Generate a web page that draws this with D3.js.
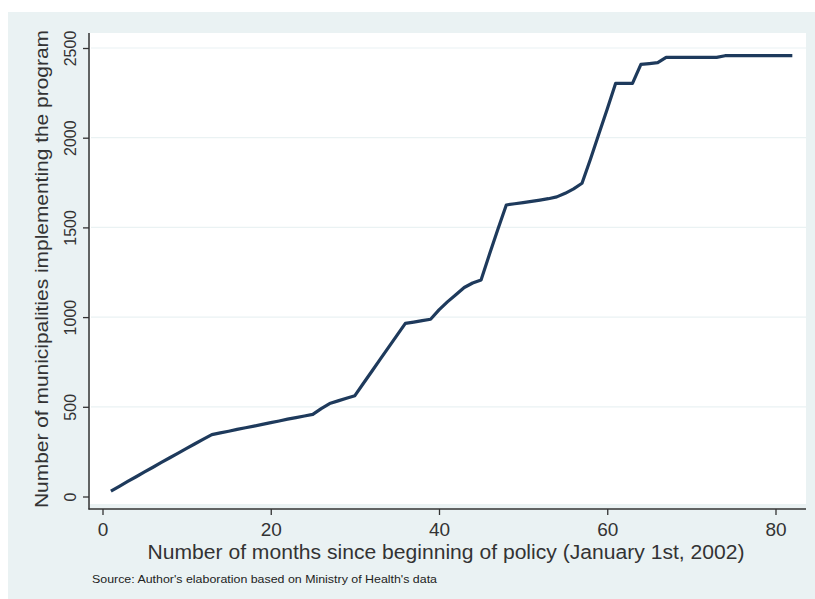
<!DOCTYPE html>
<html>
<head>
<meta charset="utf-8">
<script src="https://cdn.jsdelivr.net/npm/d3@7"></script>
<style>
  html, body { margin: 0; padding: 0; background: #ffffff; }
  svg { display: block; }
  text { font-family: "Liberation Sans", Arial, sans-serif; }
</style>
</head>
<body>
<svg id="chart" width="815" height="599"></svg>
<script>
// Months since beginning of policy
const months = [1,2,3,4,5,6,7,8,9,10,11,12,13,14,15,16,17,18,19,20,
  21,22,23,24,25,26,27,28,29,30,31,32,33,34,35,36,37,38,39,40,
  41,42,43,44,45,46,47,48,49,50,51,52,53,54,55,56,57,58,59,60,
  61,62,63,64,65,66,67,68,69,70,71,72,73,74,75,76,77,78,79,80,81,82];
// Number of municipalities implementing the program
const municipalities = [30,57,84,110,137,163,190,216,242,268,294,320,345,355,364,374,383,392,402,412,
  421,431,440,449,458,490,518,533,548,562,630,697,764,831,898,965,972,980,988,1040,
  1085,1125,1165,1190,1207,1350,1490,1625,1632,1638,1645,1652,1660,1670,1690,1715,1746,1880,2020,2160,
  2303,2303,2303,2409,2413,2418,2448,2448,2448,2448,2448,2448,2448,2457,2457,2457,2457,2457,2457,2457,2457,2457];
const xTicks = [0, 20, 40, 60, 80];
const yTicks = [0, 500, 1000, 1500, 2000, 2500];
const xTitle = "Number of months since beginning of policy (January 1st, 2002)";
const yTitle = "Number of municipalities implementing the program";
const note = "Source: Author's elaboration based on Ministry of Health's data";

const svg = d3.select("#chart");
const W = 815, H = 599;

// outer graph region
svg.append("rect").attr("x", 8).attr("y", 12).attr("width", W - 8).attr("height", H - 12)
  .attr("fill", "#eaf2f3");

const x = d3.scaleLinear().domain([0, 80]).range([102.5, 775.5]);
const y = d3.scaleLinear().domain([0, 2500]).range([496.5, 48]);

// plot region
svg.append("rect").attr("x", 90).attr("y", 33).attr("width", 716).attr("height", 471)
  .attr("fill", "#ffffff");

// gridlines
svg.append("g").selectAll("line").data(yTicks.filter(d => d > 0)).join("line")
  .attr("x1", 91).attr("x2", 806)
  .attr("y1", d => y(d)).attr("y2", d => y(d))
  .attr("stroke", "#eaf2f3").attr("stroke-width", 1.2);

// y axis
const yAxis = svg.append("g").attr("transform", "translate(89,0)")
  .call(d3.axisLeft(y).tickValues(yTicks).tickSize(6).tickPadding(4).tickFormat(d3.format("d")));
yAxis.select(".domain").remove();
yAxis.selectAll(".tick line").attr("stroke", "#333").attr("stroke-width", 1.3);
yAxis.selectAll(".tick text")
  .attr("font-size", 16).attr("fill", "#333")
  .attr("text-anchor", "middle")
  .attr("x", 0).attr("dy", 0)
  .attr("transform", "translate(-13,0) rotate(-90)")
  .attr("dominant-baseline", "auto");
svg.append("line").attr("x1", 89).attr("x2", 89).attr("y1", 33).attr("y2", 509.5)
  .attr("stroke", "#333").attr("stroke-width", 1.5);

// x axis
const xAxis = svg.append("g").attr("transform", "translate(0,509)")
  .call(d3.axisBottom(x).tickValues(xTicks).tickSize(6).tickPadding(8).tickFormat(d3.format("d")));
xAxis.select(".domain").remove();
xAxis.selectAll(".tick line").attr("stroke", "#333").attr("stroke-width", 1.3);
xAxis.selectAll(".tick text").attr("font-size", 19).attr("fill", "#333");
svg.append("line").attr("x1", 88.5).attr("x2", 806).attr("y1", 509).attr("y2", 509)
  .attr("stroke", "#333").attr("stroke-width", 1.5);

// line
const data = months.map((m, i) => ({ m, v: municipalities[i] }));
svg.append("path").datum(data)
  .attr("fill", "none").attr("stroke", "#1e3a5c").attr("stroke-width", 3.2)
  .attr("stroke-linejoin", "round")
  .attr("d", d3.line().x(d => x(d.m)).y(d => y(d.v)));

// axis titles
svg.append("text").attr("x", 446).attr("y", 559).attr("text-anchor", "middle")
  .attr("font-size", 20).attr("fill", "#333")
  .attr("textLength", 597).attr("lengthAdjust", "spacingAndGlyphs")
  .text(xTitle);
svg.append("text").attr("transform", "translate(48,269) rotate(-90)").attr("text-anchor", "middle")
  .attr("font-size", 18).attr("fill", "#333")
  .attr("textLength", 478).attr("lengthAdjust", "spacingAndGlyphs")
  .text(yTitle);

// note
svg.append("text").attr("x", 92).attr("y", 583)
  .attr("font-size", 10.5).attr("fill", "#222")
  .attr("textLength", 345).attr("lengthAdjust", "spacingAndGlyphs")
  .text(note);
</script>
</body>
</html>
